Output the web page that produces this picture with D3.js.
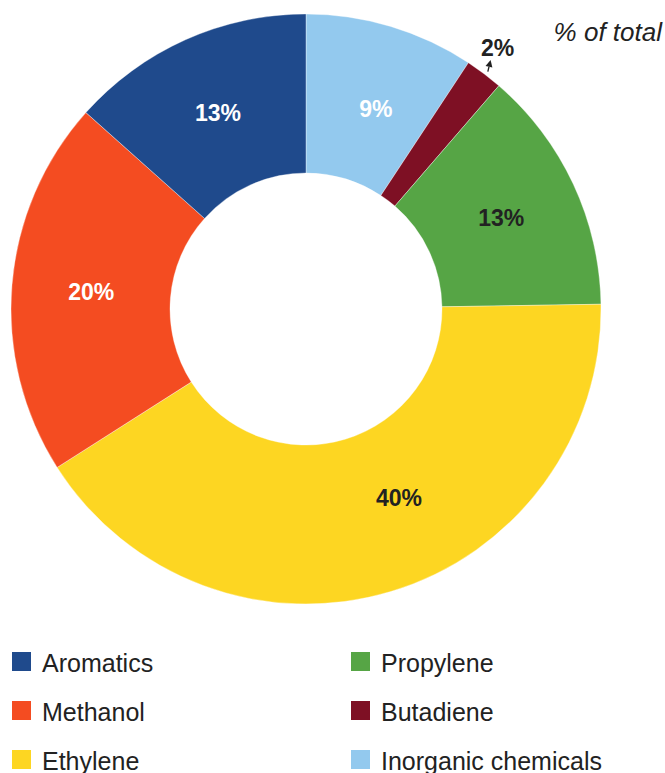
<!DOCTYPE html>
<html>
<head>
<meta charset="utf-8">
<script src="https://cdn.jsdelivr.net/npm/d3@7"></script>
<style>
  body { margin: 0; background: #fff; }
  svg { display: block; font-family: Arial, "Liberation Sans", Helvetica, sans-serif; }
</style>
</head>
<body>
<script>
// slices, clockwise from 12 o'clock
var categories = ['Inorganic chemicals', 'Butadiene', 'Propylene', 'Ethylene', 'Methanol', 'Aromatics'];
var values = [9, 2, 13, 40, 20, 13];
var colors = ['#93c9ee', '#7e1024', '#56a545', '#fdd622', '#f44c21', '#1f4a8c'];
var labelColors = ['#fff', '#222', '#222', '#222', '#fff', '#fff'];
var legendLeft = ['Aromatics', 'Methanol', 'Ethylene'];
var legendRight = ['Propylene', 'Butadiene', 'Inorganic chemicals'];

var width = 665, height = 773;
var cx = 306, cy = 309, outerR = 295, innerR = 136;

var svg = d3.select('body').append('svg').attr('width', width).attr('height', height);

var data = categories.map(function(c, i) {
  return {name: c, value: values[i], color: colors[i], label: labelColors[i]};
});

var pie = d3.pie().sort(null).value(function(d) { return d.value; });
var arc = d3.arc().innerRadius(innerR).outerRadius(outerR);
var arcs = pie(data);

var g = svg.append('g').attr('transform', 'translate(' + cx + ',' + cy + ')');

g.selectAll('path.slice').data(arcs)
  .enter().append('path')
  .attr('class', 'slice')
  .attr('d', arc)
  .attr('fill', function(d) { return d.data.color; })
  .attr('stroke', '#fff')
  .attr('stroke-width', 0.6)
  .attr('stroke-opacity', 0.6);

// small nudges for labels that don't sit on the centroid
var nudge = {'Ethylene': [31, -18], 'Inorganic chemicals': [8, 6]};

g.selectAll('text.val').data(arcs.filter(function(d) { return d.data.value > 2; }))
  .enter().append('text')
  .attr('class', 'val')
  .attr('x', function(d) {
    var n = nudge[d.data.name] || [0, 0];
    return arc.centroid(d)[0] + n[0];
  })
  .attr('y', function(d) {
    var n = nudge[d.data.name] || [0, 0];
    return arc.centroid(d)[1] + n[1];
  })
  .attr('dy', '0.36em')
  .attr('text-anchor', 'middle')
  .attr('font-size', 23)
  .attr('font-weight', 'bold')
  .attr('fill', function(d) { return d.data.label; })
  .text(function(d) { return d.data.value + '%'; });

// small slice: label outside with an arrow
arcs.filter(function(d) { return d.data.value <= 2; }).forEach(function(d) {
  var a = (d.startAngle + d.endAngle) / 2;
  var p0 = [Math.sin(a + 0.006) * (outerR + 4), -Math.cos(a + 0.006) * (outerR + 4)];
  var p1 = [Math.sin(a - 0.01) * (outerR + 15), -Math.cos(a - 0.01) * (outerR + 15)];
  var ang = Math.atan2(p1[1] - p0[1], p1[0] - p0[0]);
  var len = 7, half = 3.5;
  var bx = p1[0] - Math.cos(ang) * len, by = p1[1] - Math.sin(ang) * len;
  g.append('line')
    .attr('x1', p0[0]).attr('y1', p0[1])
    .attr('x2', bx).attr('y2', by)
    .attr('stroke', '#222').attr('stroke-width', 1.3);
  g.append('path')
    .attr('d', 'M' + p1[0] + ',' + p1[1] +
      'L' + (bx - Math.sin(ang) * half) + ',' + (by + Math.cos(ang) * half) +
      'L' + (bx + Math.sin(ang) * half) + ',' + (by - Math.cos(ang) * half) + 'Z')
    .attr('fill', '#222');
  g.append('text')
    .attr('x', p1[0] + 7).attr('y', p1[1] - 4)
    .attr('text-anchor', 'middle')
    .attr('font-size', 23)
    .attr('font-weight', 'bold')
    .attr('fill', '#222')
    .text(d.data.value + '%');
});

svg.append('text')
  .attr('x', 662).attr('y', 41)
  .attr('text-anchor', 'end')
  .attr('font-size', 26)
  .attr('font-style', 'italic')
  .attr('fill', '#222')
  .text('% of total');

// legend
var colorOf = {};
data.forEach(function(d) { colorOf[d.name] = d.color; });

function legendColumn(names, x) {
  var rows = svg.append('g').selectAll('g').data(names)
    .enter().append('g')
    .attr('transform', function(d, i) { return 'translate(' + x + ',' + (652 + i * 49) + ')'; });
  rows.append('rect')
    .attr('width', 19).attr('height', 19)
    .attr('fill', function(d) { return colorOf[d]; });
  rows.append('text')
    .attr('x', 30).attr('y', 20)
    .attr('font-size', 25)
    .attr('fill', '#222')
    .text(function(d) { return d; });
}
legendColumn(legendLeft, 12);
legendColumn(legendRight, 351);
</script>
</body>
</html>
